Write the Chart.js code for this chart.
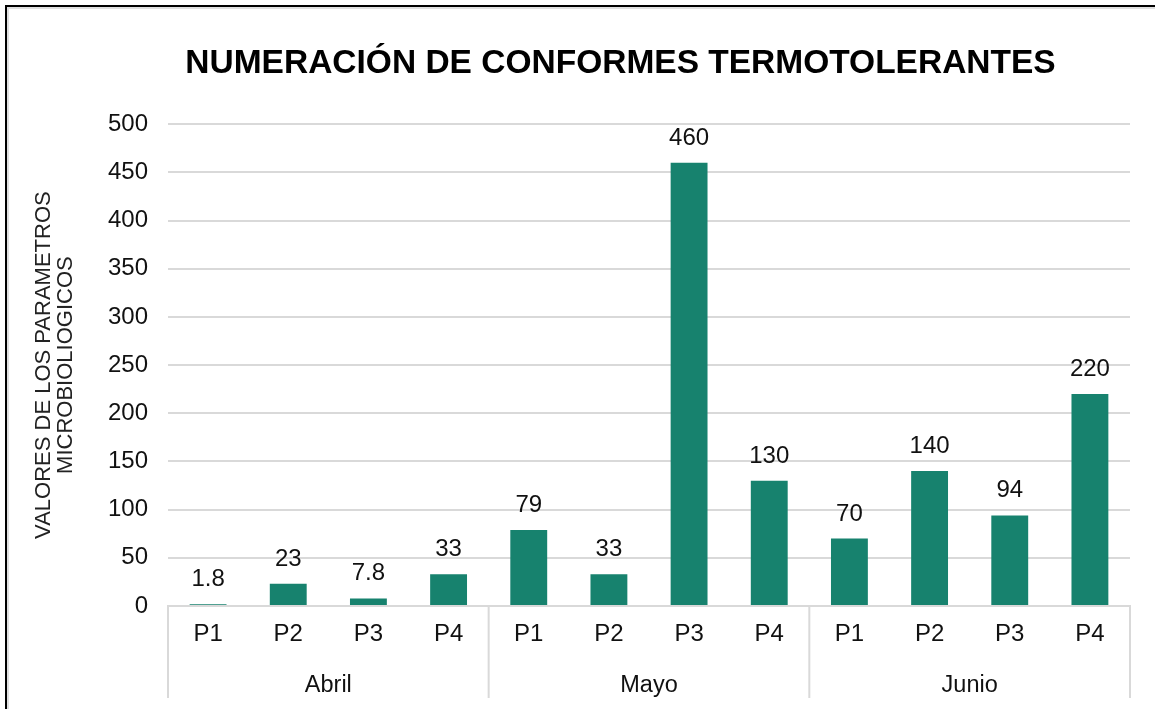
<!DOCTYPE html>
<html>
<head>
<meta charset="utf-8">
<script src="https://cdn.jsdelivr.net/npm/chart.js@4"></script>
<style>
  html, body { margin: 0; padding: 0; background: #fff; }
  #wrap { position: relative; width: 1155px; height: 709px; }
  #frame {
    position: absolute; left: 5px; top: 5px; width: 1160px; height: 720px;
    border-top: 2px solid #000; border-left: 2px solid #000;
    box-shadow: inset 2px 2px 0 #e0e0e0; pointer-events: none;
  }
</style>
</head>
<body>
<div id="wrap">
  <canvas id="myChart" width="1155" height="709"></canvas>
  <div id="frame"></div>
</div>
<script>
const months = ["Abril", "Mayo", "Junio"];
const points = ["P1", "P2", "P3", "P4"];
const values = [1.8, 23, 7.8, 33, 79, 33, 460, 130, 70, 140, 94, 220];
const valueLabels = ["1.8", "23", "7.8", "33", "79", "33", "460", "130", "70", "140", "94", "220"];
const yTicks = [0, 50, 100, 150, 200, 250, 300, 350, 400, 450, 500];

const labels = [];
months.forEach(() => points.forEach((p) => labels.push(p)));

const FONT = "'Liberation Sans', Arial, sans-serif";
const gridColor = "#d9d9d9";

// etiquetas de valores encima de las barras
const valueLabelPlugin = {
  id: "valueLabels",
  afterLayout(chart) {
    // el titulo en el original no esta centrado en todo el ancho
    if (chart.titleBlock) chart.titleBlock.left = 111;
  },
  afterDatasetsDraw(chart) {
    const ctx = chart.ctx;
    const meta = chart.getDatasetMeta(0);
    ctx.save();
    ctx.font = "24px " + FONT;
    ctx.fillStyle = "#111";
    ctx.textAlign = "center";
    ctx.textBaseline = "alphabetic";
    meta.data.forEach((bar, i) => {
      ctx.fillText(valueLabels[i], bar.x, bar.y - 18);
    });
    ctx.restore();
  },
};

// lineas separadoras del eje de dos niveles
const separatorPlugin = {
  id: "separators",
  afterDraw(chart) {
    const ctx = chart.ctx;
    const x = chart.scales.x;
    const x2 = chart.scales.x2;
    const top = chart.chartArea.bottom;
    const bottom = x2.bottom - 11;
    const half = (x.getPixelForValue(1) - x.getPixelForValue(0)) / 2;
    ctx.save();
    ctx.strokeStyle = gridColor;
    ctx.lineWidth = 2;
    for (let m = 0; m <= months.length; m++) {
      let px;
      if (m < months.length) {
        px = x.getPixelForValue(m * points.length) - half;
      } else {
        px = x.getPixelForValue(labels.length - 1) + half;
      }
      ctx.beginPath();
      ctx.moveTo(px, top);
      ctx.lineTo(px, bottom);
      ctx.stroke();
    }
    ctx.restore();
  },
};

const ctx = document.getElementById("myChart");
new Chart(ctx, {
  type: "bar",
  data: {
    labels: labels,
    datasets: [
      {
        label: "Valores",
        data: values,
        backgroundColor: "#17826e",
        barPercentage: 0.46,
        categoryPercentage: 1,
      },
    ],
  },
  options: {
    responsive: false,
    animation: false,
    layout: { padding: { left: 26, right: 25, top: 0, bottom: 0 } },
    plugins: {
      legend: { display: false },
      tooltip: { enabled: false },
      title: {
        display: true,
        text: "NUMERACIÓN DE CONFORMES TERMOTOLERANTES",
        color: "#000",
        font: { family: FONT, size: 33.5, weight: "bold" },
        padding: { top: 44, bottom: 40 },
      },
    },
    scales: {
      x: {
        position: "bottom",
        grid: { display: false, drawTicks: false },
        border: { display: true, color: gridColor, width: 2 },
        ticks: {
          color: "#111",
          font: { family: FONT, size: 24 },
          padding: 14,
          maxRotation: 0,
        },
        afterFit(scale) { scale.height = 50; },
      },
      x2: {
        type: "category",
        position: "bottom",
        labels: months,
        offset: true,
        grid: { display: false, drawTicks: false },
        border: { display: false },
        ticks: {
          color: "#111",
          font: { family: FONT, size: 23.5 },
          padding: 15,
        },
        afterFit(scale) { scale.height = 53; },
      },
      y: {
        min: 0,
        max: 500,
        afterBuildTicks(scale) {
          scale.ticks = yTicks.map((v) => ({ value: v }));
        },
        grid: { color: gridColor, lineWidth: 2, drawTicks: false },
        border: { display: false },
        ticks: {
          color: "#111",
          font: { family: FONT, size: 24 },
          padding: 20,
        },
        title: {
          display: true,
          text: ["VALORES DE LOS PARAMETROS", "MICROBIOLIOGICOS"],
          color: "#222",
          font: { family: FONT, size: 22, lineHeight: 1.0 },
          padding: { top: 7, bottom: 0 },
        },
        afterFit(scale) { scale.width = 142; },
      },
    },
  },
  plugins: [valueLabelPlugin, separatorPlugin],
});
</script>
</body>
</html>
